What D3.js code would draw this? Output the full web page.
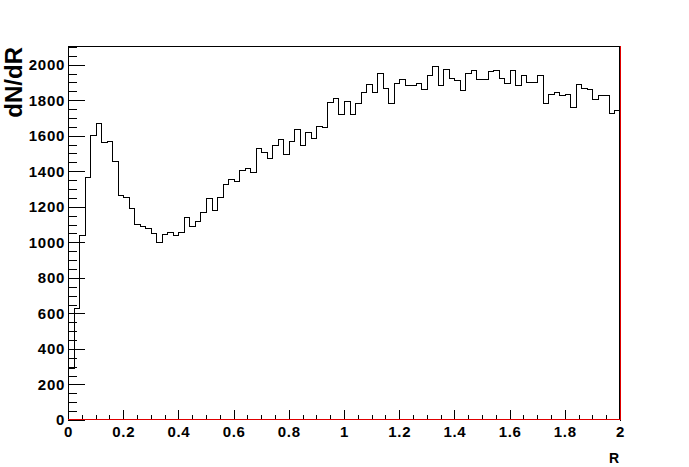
<!DOCTYPE html>
<html>
<head>
<meta charset="utf-8">
<script src="https://cdn.jsdelivr.net/npm/d3@7"></script>
<style>
  body { margin: 0; background: #fff; }
  text { font-family: "Liberation Sans", Arial, sans-serif; font-weight: bold; }
</style>
</head>
<body>
<div id="chart"></div>
<script>
// histogram of dN/dR, 100 bins from 0 to 2
var binValues = [
  291, 629, 1042, 1366, 1605, 1670, 1563, 1571, 1460, 1265,
  1254, 1192, 1102, 1090, 1083, 1055, 1000, 1047, 1060, 1040,
  1058, 1141, 1090, 1120, 1171, 1248, 1181, 1254, 1329, 1355,
  1344, 1406, 1417, 1395, 1530, 1507, 1473, 1547, 1580, 1497,
  1571, 1637, 1547, 1622, 1586, 1654, 1648, 1789, 1811, 1723,
  1796, 1723, 1783, 1845, 1892, 1845, 1952, 1868, 1783, 1896,
  1918, 1886, 1886, 1898, 1862, 1943, 1993, 1886, 1976, 1924,
  1913, 1856, 1952, 1969, 1918, 1918, 1963, 1969, 1924, 1896,
  1969, 1886, 1943, 1901, 1901, 1943, 1785, 1834, 1845, 1830,
  1836, 1762, 1892, 1868, 1862, 1806, 1828, 1828, 1729, 1744
];
var xTicks = [0, 0.2, 0.4, 0.6, 0.8, 1, 1.2, 1.4, 1.6, 1.8, 2];
var yTicks = [0, 200, 400, 600, 800, 1000, 1200, 1400, 1600, 1800, 2000];
var xRange = [0, 2];
var yMax = 2105;

var svgWidth = 689;
var svgHeight = 467;

var margin = { top: 46, right: 69, bottom: 47, left: 68 };
var width = svgWidth - margin.left - margin.right;
var height = svgHeight - margin.top - margin.bottom;

var svg = d3.select("#chart")
  .append("svg")
  .attr("width", svgWidth)
  .attr("height", svgHeight);

var chartGroup = svg.append("g")
  .attr("transform", `translate(${margin.left}, ${margin.top})`);

var xScale = d3.scaleLinear().domain(xRange).range([0, width]);
var yScale = d3.scaleLinear().domain([0, yMax]).range([height, 0]);

var binWidth = (xRange[1] - xRange[0]) / binValues.length;

// minor ticks
var yMinor = d3.range(0, yMax, 50);
var xMinor = d3.range(0, 2.0001, 0.05);

chartGroup.append("g")
  .call(d3.axisLeft(yScale).tickValues(yMinor).tickSize(-9).tickFormat(""))
  .call(g => g.select(".domain").remove());

chartGroup.append("g")
  .attr("transform", `translate(0, ${height})`)
  .call(d3.axisBottom(xScale).tickValues(xMinor).tickSize(-5).tickFormat(""))
  .call(g => g.select(".domain").remove());

// major ticks with labels
chartGroup.append("g")
  .call(d3.axisLeft(yScale).tickValues(yTicks).tickSize(-17).tickPadding(3).tickFormat(d3.format("d")))
  .call(g => g.select(".domain").remove());

chartGroup.append("g")
  .attr("transform", `translate(0, ${height})`)
  .call(d3.axisBottom(xScale).tickValues(xTicks).tickSize(-10).tickPadding(6).tickFormat(d => String(d)))
  .call(g => g.select(".domain").remove());

svg.selectAll(".tick line").attr("stroke", "#000").attr("shape-rendering", "crispEdges");
svg.selectAll(".tick text")
  .style("font-family", "'Liberation Sans', Arial, sans-serif")
  .style("font-weight", "bold")
  .style("font-size", "15px")
  .style("letter-spacing", "0.7px")
  .attr("fill", "#000");

// histogram outline
var pts = [[xRange[0], 0]];
binValues.forEach(function(v, i) {
  pts.push([xRange[0] + i * binWidth, v]);
});
pts.push([xRange[1], binValues[binValues.length - 1]]);
pts.push([xRange[1], 0]);

var line = d3.line()
  .x(d => Math.round(xScale(d[0])) + 0.5)
  .y(d => Math.round(yScale(d[1])) + 0.5)
  .curve(d3.curveStepAfter);

chartGroup.append("path")
  .datum(pts)
  .attr("d", line)
  .attr("fill", "none")
  .attr("stroke", "#000")
  .attr("stroke-width", 1)
  .attr("shape-rendering", "crispEdges");

// frame
chartGroup.append("rect")
  .attr("x", 0.5)
  .attr("y", 0.5)
  .attr("width", width - 1)
  .attr("height", height - 1)
  .attr("fill", "none")
  .attr("stroke", "#000")
  .attr("shape-rendering", "crispEdges");

chartGroup.append("line")
  .attr("x1", 0).attr("x2", width + 1)
  .attr("y1", height - 0.5).attr("y2", height - 0.5)
  .attr("stroke", "#e00000")
  .attr("shape-rendering", "crispEdges");

chartGroup.append("line")
  .attr("x1", width + 0.5).attr("x2", width + 0.5)
  .attr("y1", 0).attr("y2", height)
  .attr("stroke", "#e00000")
  .attr("shape-rendering", "crispEdges");

// axis titles
svg.append("text")
  .attr("x", margin.left + width - 1)
  .attr("y", 463)
  .attr("text-anchor", "end")
  .style("font-size", "14px")
  .text("R");

svg.append("text")
  .attr("transform", `translate(22, ${margin.top + 1}) rotate(-90)`)
  .attr("text-anchor", "end")
  .style("font-size", "24px")
  .text("dN/dR");
</script>
</body>
</html>
